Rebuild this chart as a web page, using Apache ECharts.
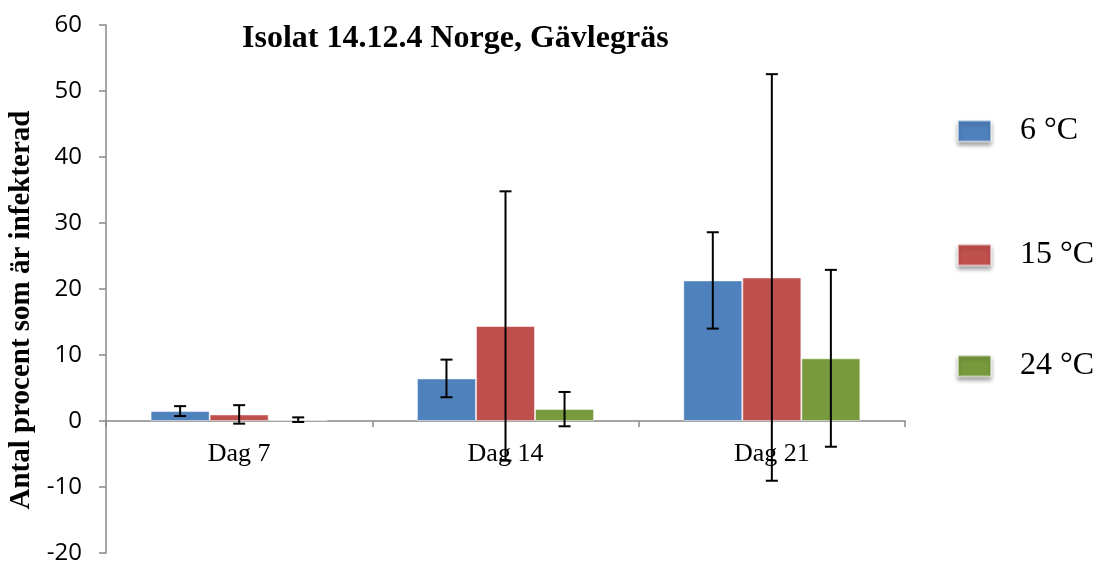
<!DOCTYPE html>
<html>
<head>
<meta charset="utf-8">
<script src="https://cdn.jsdelivr.net/npm/echarts@6/dist/echarts.min.js"></script>
<style>html,body{margin:0;padding:0;background:#fff;}#c{width:1096px;height:562px;}</style>
</head>
<body>
<div id="c"></div>
<script>
var categories = ['Dag 7', 'Dag 14', 'Dag 21'];
var seriesNames = ['6 °C', '15 °C', '24 °C'];
var values6 = [1.5, 6.45, 21.3];
var values15 = [1.0, 14.4, 21.75];
var values24 = [0.2, 1.8, 9.5];
var err6 = [0.75, 2.85, 7.3];
var err15 = [1.4, 20.4, 30.8];
var err24 = [0.35, 2.6, 13.4];
var yTicks = [-20, -10, 0, 10, 20, 30, 40, 50, 60];

var colors = ['#4F81BD', '#C0504D', '#789A3D'];
var allValues = [values6, values15, values24];
var allErr = [err6, err15, err24];
var barGapCat = 0.335;
var legendTops = [115, 239, 350];

var chart = echarts.init(document.getElementById('c'));

var series = [];
allValues.forEach(function (vals, i) {
  series.push({
    name: seriesNames[i],
    type: 'bar',
    data: vals,
    barGap: '0%',
    barCategoryGap: (barGapCat * 100) + '%',
    itemStyle: { color: colors[i], borderColor: 'rgba(255,255,255,0.5)', borderWidth: 1 },
    z: 2
  });
});
allValues.forEach(function (vals, i) {
  var errs = allErr[i];
  series.push({
    type: 'custom',
    name: 'err' + i,
    z: 5,
    silent: true,
    encode: { x: 0, y: [1, 2] },
    data: vals.map(function (v, j) { return [j, v - errs[j], v + errs[j]]; }),
    renderItem: function (params, api) {
      var band = api.size([1, 0])[0];
      var bw = band * (1 - barGapCat) / 3;
      var off = (i - 1) * bw;
      var lo = api.coord([api.value(0), api.value(1)]);
      var hi = api.coord([api.value(0), api.value(2)]);
      var x = lo[0] + off;
      var cap = 6;
      var st = { stroke: '#000', lineWidth: 2 };
      return {
        type: 'group',
        children: [
          { type: 'line', shape: { x1: x, y1: lo[1], x2: x, y2: hi[1] }, style: st },
          { type: 'line', shape: { x1: x - cap, y1: lo[1], x2: x + cap, y2: lo[1] }, style: st },
          { type: 'line', shape: { x1: x - cap, y1: hi[1], x2: x + cap, y2: hi[1] }, style: st }
        ]
      };
    }
  });
});

var legends = seriesNames.map(function (n, i) {
  return {
    data: [n],
    orient: 'vertical',
    left: 957, top: legendTops[i],
    padding: 0,
    itemWidth: 33, itemHeight: 21,
    icon: 'rect',
    itemStyle: { shadowBlur: 4, shadowColor: 'rgba(0,0,0,0.35)', shadowOffsetY: 3 },
    textStyle: { fontFamily: 'Liberation Serif', fontSize: 32, color: '#000', padding: [0, 0, 0, 24] }
  };
});

chart.setOption({
  animation: false,
  backgroundColor: '#fff',
  title: {
    text: 'Isolat 14.12.4 Norge, Gävlegräs',
    left: 237, top: 18,
    textStyle: { fontFamily: 'Liberation Serif', fontWeight: 'bold', fontSize: 32, color: '#000' }
  },
  legend: legends,
  grid: { left: 106, right: 191, top: 25, bottom: 9, containLabel: false, outerBoundsMode: 'none' },
  xAxis: {
    type: 'category',
    data: categories,
    axisLine: { onZero: true, lineStyle: { color: '#888', width: 1.5 } },
    axisTick: { show: true, length: 6, lineStyle: { color: '#888', width: 1.5 } },
    axisLabel: { fontFamily: 'Liberation Serif', fontSize: 26, color: '#000', margin: -112 }
  },
  yAxis: {
    type: 'value',
    min: yTicks[0], max: yTicks[yTicks.length - 1], interval: 10,
    name: 'Antal procent som är infekterad',
    nameLocation: 'middle',
    nameRotate: 90,
    nameGap: 66,
    nameTextStyle: { fontFamily: 'Liberation Serif', fontWeight: 'bold', fontSize: 29, color: '#000', padding: [0, 42, 0, 0] },
    axisLine: { show: true, lineStyle: { color: '#888', width: 1.5 } },
    axisTick: { show: true, length: 7, lineStyle: { color: '#888', width: 1.5 } },
    splitLine: { show: false },
    axisLabel: { fontFamily: 'Open Sans', fontSize: 24, color: '#000', margin: 24 }
  },
  series: series
});
</script>
</body>
</html>
